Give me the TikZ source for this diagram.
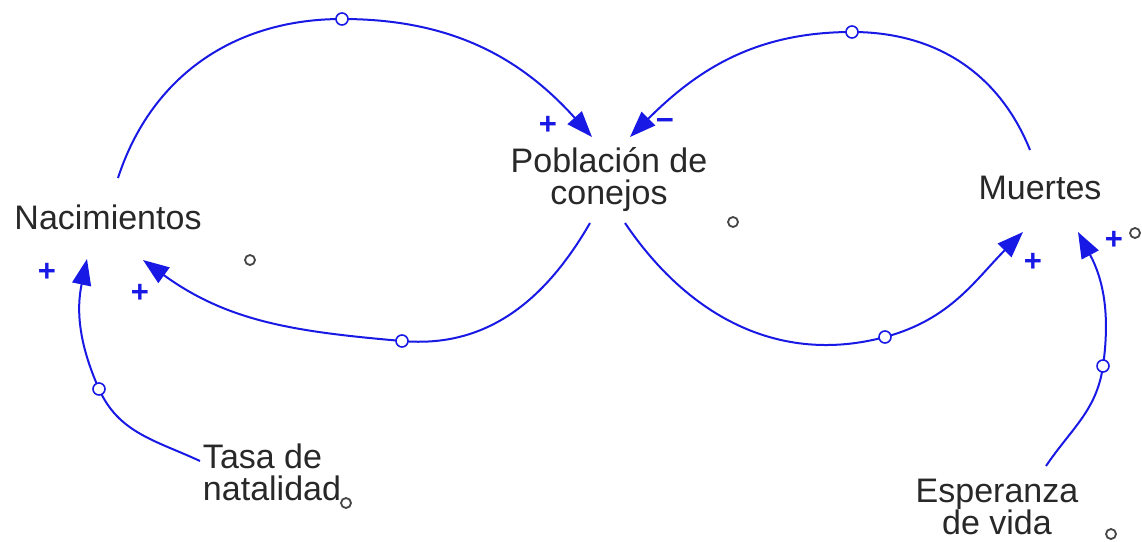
\documentclass[tikz,border=0pt]{standalone}
\usepackage{fontspec}
\setmainfont{Liberation Sans}
\usetikzlibrary{arrows.meta}
\definecolor{lnk}{RGB}{25,25,230}
\definecolor{txt}{RGB}{40,40,40}
\definecolor{ghostc}{RGB}{70,70,70}
\begin{document}
\begin{tikzpicture}[x=1pt,y=-1pt,
  lbl/.style={font=\fontsize{34}{32}\selectfont, text=txt, align=center, inner sep=0pt},
  link/.style={draw=lnk, line width=2pt, -{Triangle[length=26pt,width=19pt]}},
  hole/.style={circle, draw=lnk, fill=white, line width=1.6pt, minimum size=12pt, inner sep=0pt},
  ghost/.style={circle, draw=ghostc, fill=white, line width=1.8pt, minimum size=10pt, inner sep=0pt},
  sgn/.style={text=lnk, font=\fontsize{31}{31}\selectfont\bfseries, inner sep=0pt}]
\useasboundingbox (0,0) rectangle (1142,541);
\fill[white] (0,0) rectangle (1142,541);

% variables
\node[lbl] (nac) at (108,217) {Nacimientos};
\node[lbl] (pob) at (609,180) {Población de\\conejos};
\node[lbl] (mue) at (1040,188) {Muertes};
\node[lbl, align=left] (tasa) at (272,472) {Tasa de\\natalidad};
\node[lbl] (esp) at (997,507) {Esperanza\\de vida};

% connector end points
\coordinate (a1s) at (118,178);
\coordinate (a1e) at (592,137);
\coordinate (a2s) at (590,223);
\coordinate (a2e) at (143,260);
\coordinate (a3s) at (1030,150);
\coordinate (a3e) at (630,137);
\coordinate (a4s) at (625,223);
\coordinate (a4e) at (1023,232);
\coordinate (a5s) at (200,461);
\coordinate (a5e) at (87,259);
\coordinate (a6s) at (1046,466);
\coordinate (a6e) at (1078,232);

% hole positions
\coordinate (h1) at (342,19);
\coordinate (h2) at (402,341);
\coordinate (h3) at (852,32);
\coordinate (h4) at (885,337);
\coordinate (h5) at (99,389);
\coordinate (h6) at (1103,366);

% connectors
\draw[link] (a1s) to[out=72,in=180] (h1) to[out=0,in=132] (a1e);
\draw[link] (a2s) to[out=-120,in=-5] (h2) to[out=175,in=-36] (a2e);
\draw[link] (a3s) to[out=112,in=0] (h3) to[out=180,in=45] (a3e);
\draw[link] (a4s) to[out=-56,in=195] (h4) to[out=15,in=-135] (a4e);
\draw[link] (a5s) to[out=155,in=-66] (h5) to[out=114,in=-102] (a5e);
\draw[link] (a6s) to[out=56,in=-98] (h6) to[out=82,in=-62] (a6e);

\node[hole] (c1) at (h1) {};
\node[hole] (c2) at (h2) {};
\node[hole] (c3) at (h3) {};
\node[hole] (c4) at (h4) {};
\node[hole] (c5) at (h5) {};
\node[hole] (c6) at (h6) {};

% polarity signs
\node[sgn] (s1) at (548,125) {+};
\node[sgn] (s2) at (665,124) {\textminus};
\node[sgn] (s3) at (47,272) {+};
\node[sgn] (s4) at (140,293) {+};
\node[sgn] (s5) at (1033,262) {+};
\node[sgn] (s6) at (1114,240) {+};

% loose small circles
\node[ghost] (g1) at (250,260) {};
\node[ghost] (g2) at (733,222) {};
\node[ghost] (g3) at (346,503) {};
\node[ghost] (g4) at (1135,233) {};
\node[ghost] (g5) at (1111,534) {};
\end{tikzpicture}
\end{document}
